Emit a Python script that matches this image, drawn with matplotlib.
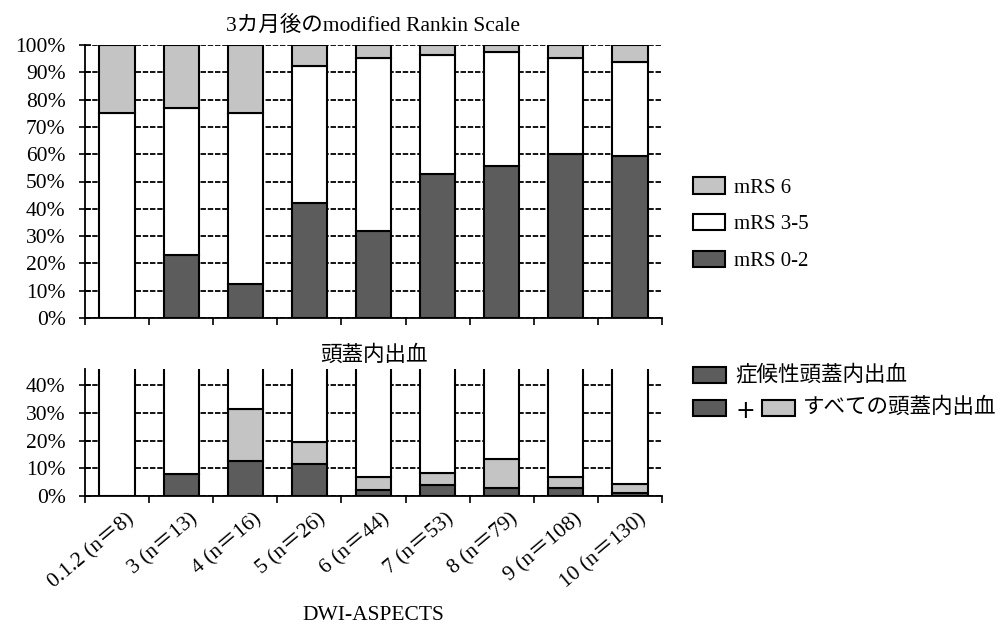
"""DWI-ASPECTS 別 3カ月後 mRS と頭蓋内出血 - 積み上げ棒グラフ"""

import matplotlib
matplotlib.use("Agg")
import matplotlib.pyplot as plt
import numpy as np
from matplotlib.patches import Patch, Rectangle

plt.rcParams["font.family"] = ["Liberation Serif", "Noto Sans CJK JP"]
plt.rcParams["font.size"] = 15.5

W, H = 1004, 626

CATEGORIES = ["0.1.2 (n＝8)", "3 (n＝13)", "4 (n＝16)", "5 (n＝26)", "6 (n＝44)",
              "7 (n＝53)", "8 (n＝79)", "9 (n＝108)", "10 (n＝130)"]

# 3カ月後の modified Rankin Scale (%)
MRS_02 = [0.0, 23.1, 12.5, 42.3, 31.8, 52.8, 55.7, 60.2, 59.2]
MRS_35 = [75.0, 53.8, 62.5, 50.0, 63.6, 43.4, 41.8, 35.2, 34.6]
MRS_6 = [25.0, 23.1, 25.0, 7.7, 4.6, 3.8, 2.5, 4.6, 6.2]

# 頭蓋内出血 (%)
SYMPTOMATIC_ICH = [0.0, 8.0, 12.5, 11.5, 2.3, 4.0, 3.0, 2.8, 1.0]
ALL_ICH = [0.0, 8.0, 31.3, 19.5, 7.0, 8.3, 13.5, 6.8, 4.5]

DARK = "#5c5c5c"
LIGHT = "#c4c4c4"
WHITE = "#ffffff"
BAR_W = 0.55


def px(x, y):
    """ピクセル座標 -> figure 座標"""
    return x / W, 1 - y / H


def style_axes(ax, ymax, yticks):
    x = np.arange(len(CATEGORIES))
    ax.set_xlim(-0.5, len(CATEGORIES) - 0.5)
    ax.set_ylim(0, ymax)
    ax.set_yticks(yticks)
    ax.set_yticklabels([f"{t}%" for t in yticks])
    ax.set_axisbelow(True)
    ax.yaxis.grid(True, color="black", linestyle=(0, (3, 1)), linewidth=1.3)
    for s in ["top", "right"]:
        ax.spines[s].set_visible(False)
    ax.spines["left"].set_linewidth(1.3)
    ax.spines["bottom"].set_linewidth(1.3)
    ax.tick_params(axis="y", direction="inout", length=8, width=1.2, pad=10)
    ax.set_xticks(np.arange(len(CATEGORIES) + 1) - 0.5, minor=True)
    # ラベルは少し右寄せ（元図に合わせる）
    ax.set_xticks(x + 0.13)
    ax.tick_params(axis="x", which="minor", direction="out", length=5, width=1.2)
    ax.tick_params(axis="x", which="major", length=0)
    return x


fig = plt.figure(figsize=(W / 100, H / 100), dpi=100)

# 上段: mRS
l, b = px(85, 318)
_, t = px(0, 45)
ax1 = fig.add_axes([l, b, 577 / W, t - b])
x = style_axes(ax1, 100, list(range(0, 101, 10)))
ax1.set_xticklabels([])
kw = dict(width=BAR_W, edgecolor="black", linewidth=1.5)
ax1.bar(x, MRS_02, color=DARK, label="mRS 0-2", **kw)
ax1.bar(x, MRS_35, bottom=MRS_02, color=WHITE, label="mRS 3-5", **kw)
ax1.bar(x, MRS_6, bottom=np.add(MRS_02, MRS_35), color=LIGHT, label="mRS 6", **kw)
ax1.set_title("3カ月後のmodified Rankin Scale", fontsize=15.5, pad=10)

handles = [Patch(facecolor=LIGHT, edgecolor="black", linewidth=1.5, label="mRS 6"),
           Patch(facecolor=WHITE, edgecolor="black", linewidth=1.5, label="mRS 3-5"),
           Patch(facecolor=DARK, edgecolor="black", linewidth=1.5, label="mRS 0-2")]
fig.legend(handles=handles, loc="upper left", bbox_to_anchor=px(693, 177),
           frameon=False, borderpad=0, borderaxespad=0, handlelength=1.55,
           handleheight=0.85, handletextpad=0.4, labelspacing=0.78, fontsize=15)

# 下段: 頭蓋内出血
l, b = px(85, 496)
_, t = px(0, 369)
ax2 = fig.add_axes([l, b, 577 / W, t - b])
x = style_axes(ax2, 45.8, [0, 10, 20, 30, 40])
other = np.subtract(ALL_ICH, SYMPTOMATIC_ICH)
rest = 100 - np.array(ALL_ICH)
ax2.bar(x, SYMPTOMATIC_ICH, color=DARK, **kw)
ax2.bar(x, other, bottom=SYMPTOMATIC_ICH, color=LIGHT, **kw)
ax2.bar(x, rest, bottom=ALL_ICH, color=WHITE, **kw)
ax2.set_xticklabels(CATEGORIES, rotation=40, ha="right", rotation_mode="anchor",
                    fontsize=15.5)
ax2.tick_params(axis="x", which="major", pad=10)
ax2.set_title("頭蓋内出血", fontsize=15.5, pad=6)

fig.text(*px(373, 615), "DWI-ASPECTS", ha="center", va="center", fontsize=15.5)

# 下段の凡例
for (x0, y0, c) in [(693, 375, DARK), (693, 408, DARK), (762, 408, LIGHT)]:
    fig.add_artist(Rectangle(px(x0, y0 + 8), 33 / W, 16 / H, transform=fig.transFigure,
                             facecolor=c, edgecolor="black", linewidth=1.5))
fig.text(*px(735, 375), "症候性頭蓋内出血", va="center", fontsize=15.5)
fig.text(*px(745, 409), "+", ha="center", va="center_baseline", fontsize=17,
         family="DejaVu Sans")
fig.text(*px(803, 408), "すべての頭蓋内出血", va="center", fontsize=15.5)

fig.savefig("out.png", dpi=100)
